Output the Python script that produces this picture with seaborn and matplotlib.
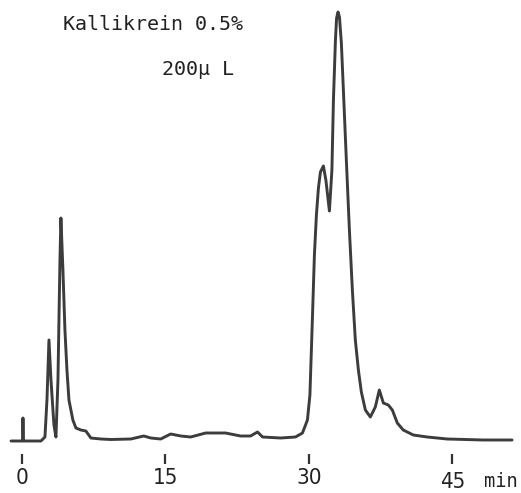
import matplotlib
matplotlib.use("Agg")
import matplotlib.pyplot as plt
import matplotlib.transforms as mtransforms
import seaborn as sns
import pandas as pd

# Chromatogram trace (time in min, detector signal in arbitrary units)
time_min = [-1.15, -0.10, 0.05, 0.10, 0.16, 0.31, 1.98, 2.40, 2.61, 2.82, 3.03, 3.34, 3.55,
            3.76, 3.97, 4.07, 4.28, 4.49, 4.70, 4.91, 5.32, 5.64, 6.16, 6.68, 7.20, 8.25,
            9.29, 11.38, 12.73, 13.47, 14.51, 15.55, 16.60, 17.64, 19.21, 21.29, 22.86,
            23.90, 24.63, 25.16, 27.04, 28.60, 29.33, 29.65, 29.85, 30.11, 30.38, 30.58,
            30.79, 31.00, 31.21, 31.52, 31.78, 32.15, 32.41, 32.57, 32.78, 32.90, 33.05,
            33.20, 33.40, 33.61, 33.92, 34.24, 34.55, 34.86, 35.18, 35.49, 35.91, 36.43,
            36.95, 37.37, 37.79, 38.31, 38.73, 39.25, 39.87, 40.92, 42.38, 44.47, 48.23,
            51.25]
signal = [0, 0, 0, 23, 0, 0, 0, 4, 41, 101, 61, 16, 4,
          61, 181, 223, 171, 111, 71, 41, 21, 13, 11, 10, 3, 2,
          1.5, 2, 5, 3, 2, 7, 5, 4, 8, 8, 5,
          5, 9, 4, 3, 4, 8, 16, 21, 46, 125, 186,
          226, 253, 269, 275, 261, 230, 271, 341, 401, 423, 429,
          424, 398, 351, 281, 211, 151, 101, 71, 49, 31, 24,
          34, 51, 38, 36, 31, 18, 11, 6, 4, 2, 1,
          1]

tick_values = [0, 15, 30, 45]
tick_labels = ["0", "15", "30", "45"]
unit_label = "min"
title_line1 = "Kallikrein 0.5%"
title_line2 = "200\u03bc L"

df = pd.DataFrame({"time": time_min, "signal": signal})

sns.set_style("white")
plt.rcParams["font.family"] = ["DejaVu Sans"]

fig = plt.figure(figsize=(5.21, 4.93), dpi=100)
ax = fig.add_axes([0, 39 / 493, 1, 454 / 493])

sns.lineplot(data=df, x="time", y="signal", ax=ax, color="#3c3c3c",
             linewidth=2.1, estimator=None, sort=False)

ax.set_xlim(-22 / 9.562, (521 - 22) / 9.562)
ax.set_ylim(-13, 441)
for s in ax.spines.values():
    s.set_visible(False)
ax.set_xlabel("")
ax.set_ylabel("")
ax.set_yticks([])
ax.set_xticks(tick_values)
ax.set_xticklabels(tick_labels)
ax.tick_params(axis="x", direction="out", length=7.2, width=1.6, color="#333333",
               pad=3.0, labelsize=16, labelcolor="#222222", bottom=True)
for t in ax.get_xticklabels():
    t.set_fontstretch("condensed")
# the "45" label sits a little lower in the original
last = ax.get_xticklabels()[-1]
last.set_transform(last.get_transform() +
                   mtransforms.ScaledTranslation(0, -4 / 100, fig.dpi_scale_trans))

trans = mtransforms.blended_transform_factory(ax.transData, ax.transAxes)
ax.text(50.05, -33 / 454, unit_label, transform=trans, ha="center", va="baseline",
        fontsize=13.5, family="DejaVu Sans Mono", color="#222222")

fig.text(63 / 521, (493 - 30) / 493, title_line1, ha="left", va="baseline",
         fontsize=14.4, family="DejaVu Sans Mono", color="#222222")
fig.text(162 / 521, (493 - 75) / 493, title_line2, ha="left", va="baseline",
         fontsize=14.4, family="DejaVu Sans Mono", color="#222222")

fig.savefig("out.png", dpi=100)
